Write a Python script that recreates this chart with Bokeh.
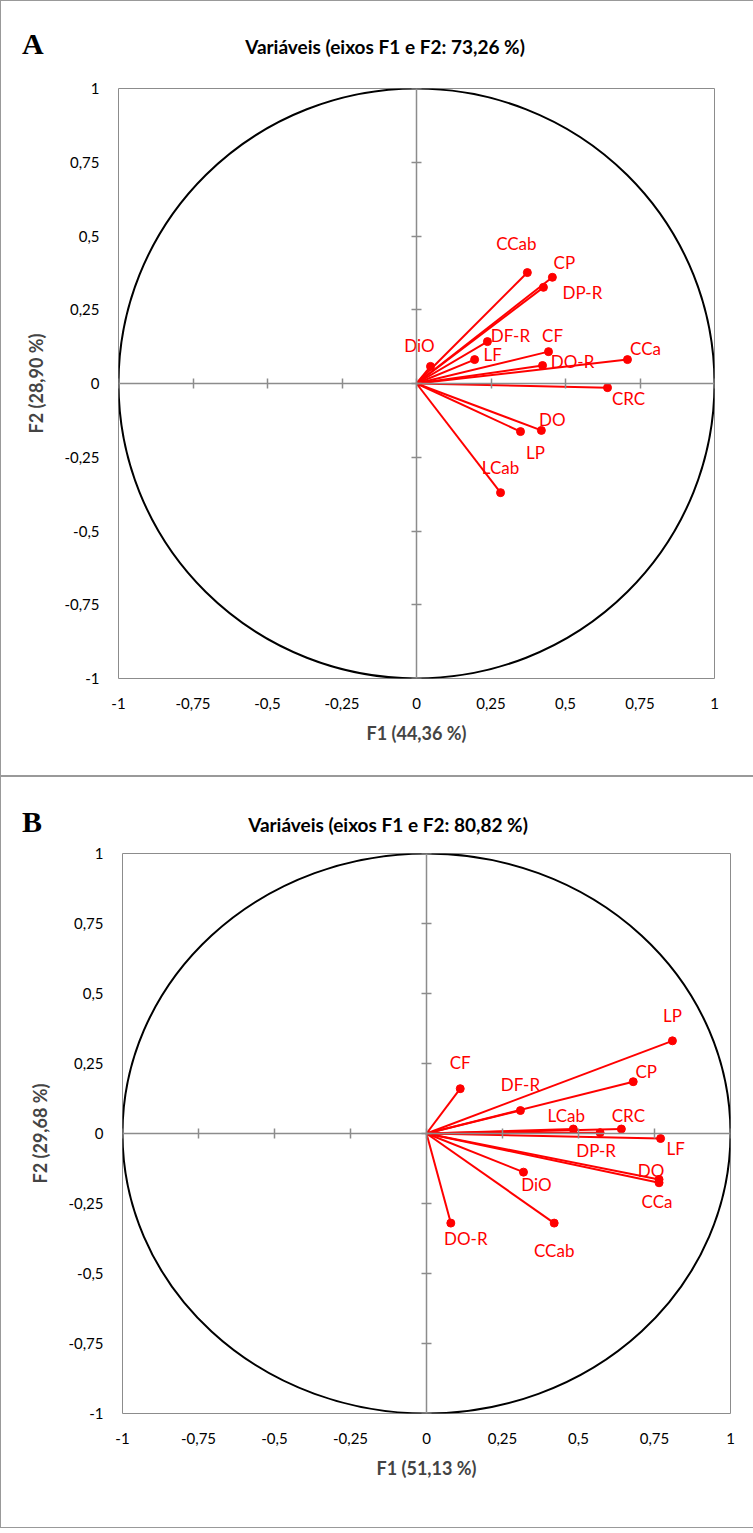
from bokeh.plotting import figure
from bokeh.layouts import column
from bokeh.models import LinearAxis, Div, ColumnDataSource, FixedTicker
from bokeh.core.properties import value
from bokeh.embed import file_html
from bokeh.resources import INLINE

FONT = "Lato"
TICKS = [-1, -0.75, -0.5, -0.25, 0, 0.25, 0.5, 0.75, 1]
TICK_LABELS = {t: ("%g" % t).replace(".", ",") for t in TICKS}

# panel A
a_names = ["CCab", "CP", "DP-R", "DF-R", "LF", "DiO", "CF", "DO-R", "CCa", "CRC", "DO", "LP", "LCab"]
a_f1 = [0.372, 0.456, 0.426, 0.238, 0.195, 0.047, 0.443, 0.423, 0.708, 0.641, 0.419, 0.349, 0.282]
a_f2 = [0.376, 0.360, 0.326, 0.142, 0.081, 0.058, 0.108, 0.061, 0.081, -0.014, -0.159, -0.163, -0.370]
a_dx = [-11, 12, 39, 23, 18, -11, 4, 30, 18, 21, 11, 15, 0]
a_dy = [-29, -15, 5, -6, -5, -21, -16, -4, -11, 11, -11, 21, -25]

# panel B
b_names = ["LP", "CP", "CF", "DF-R", "LCab", "CRC", "DP-R", "LF", "DO", "CCa", "DiO", "DO-R", "CCab"]
b_f1 = [0.809, 0.680, 0.111, 0.309, 0.483, 0.641, 0.571, 0.770, 0.765, 0.765, 0.319, 0.080, 0.420]
b_f2 = [0.331, 0.185, 0.160, 0.082, 0.016, 0.016, 0.003, -0.018, -0.164, -0.176, -0.138, -0.320, -0.320]
b_dx = [0, 13, 0, 0, -7, 7, -4, 15, -8, -2, 13, 15, 0]
b_dy = [-25, -10, -26, -26, -14, -14, 18, 10, -9, 19, 12, 15, 27]


def panel(letter, title, xlab, ylab, names, f1, f2, dx, dy, head_h, fw, fh, bl, bb, top, tcx):
    header = Div(width=742, height=head_h, text=(
        f'<div style="position:relative;width:742px;height:{head_h}px">'
        f'<span style="position:absolute;left:16px;top:{top - 12}px;font-family:\'Liberation Serif\';'
        f'font-size:30px;font-weight:bold;color:black">{letter}</span>'
        f'<span style="position:absolute;left:{tcx}px;top:{top - 2}px;transform:translateX(-50%);'
        f'white-space:nowrap;font-family:{FONT};font-size:19px;font-weight:bold;color:black">{title}</span>'
        '</div>'))
    p = figure(frame_width=fw, frame_height=fh, x_range=(-1, 1), y_range=(-1, 1),
               output_backend="svg", toolbar_location=None,
               min_border_left=bl, min_border_right=742 - bl - fw, min_border_top=8, min_border_bottom=bb)
    p.grid.grid_line_color = None
    p.outline_line_color = "#8c8c8c"
    for ax in [p.xaxis[0], p.yaxis[0]]:
        ax.ticker = FixedTicker(ticks=TICKS)
        ax.major_label_overrides = TICK_LABELS
        ax.axis_line_color = None
        ax.major_tick_line_color = None
        ax.minor_tick_line_color = None
        ax.major_label_text_font = FONT
        ax.major_label_text_font_size = "15px"
        ax.major_label_text_color = "black"
        ax.axis_label_text_font = FONT
        ax.axis_label_text_font_size = "18px"
        ax.axis_label_text_font_style = "bold"
        ax.major_label_standoff = 13
    p.xaxis.axis_label = xlab
    p.yaxis.axis_label = ylab
    p.xaxis.axis_label_standoff = 10
    p.yaxis.axis_label_standoff = 14

    # center axes with crossing ticks
    for loc in ("below", "left"):
        ax = LinearAxis(fixed_location=0, ticker=FixedTicker(ticks=TICKS))
        ax.major_label_text_alpha = 0
        ax.axis_line_color = "#8c8c8c"
        ax.axis_line_width = 1.5
        ax.major_tick_line_color = "#8c8c8c"
        ax.major_tick_line_width = 1.5
        ax.major_tick_in = 5
        ax.major_tick_out = 5
        ax.minor_tick_line_color = None
        p.add_layout(ax, loc)

    p.ellipse(x=0, y=0, width=2, height=2, fill_color=None, line_color="black", line_width=2)

    src = ColumnDataSource(dict(x0=[0] * len(f1), y0=[0] * len(f1), x=f1, y=f2,
                                name=names, dx=dx, dy=dy))
    p.segment("x0", "y0", "x", "y", source=src, line_color="red", line_width=2)
    p.scatter("x", "y", source=src, size=8, color="red")
    p.text("x", "y", text="name", source=src, x_offset="dx", y_offset="dy",
           text_align="center", text_baseline="middle", text_color="red",
           text_font=value(FONT), text_font_size="17px")
    return column(header, p, spacing=0, styles={"border": "1px solid #999999"})


pa = panel("A", "Variáveis (eixos F1 e F2: 73,26 %)", "F1 (44,36 %)", "F2 (28,90 %)",
           a_names, a_f1, a_f2, a_dx, a_dy, 69, 596, 590, 117, 97, 29, 379)
pb = panel("B", "Variáveis (eixos F1 e F2: 80,82 %)", "F1 (51,13 %)", "F2 (29,68 %)",
           b_names, b_f1, b_f2, b_dx, b_dy, 58, 608, 560, 121, 114, 31, 382)

layout = column(pa, pb, spacing=0)
open("out.html", "w").write(file_html(layout, INLINE))
